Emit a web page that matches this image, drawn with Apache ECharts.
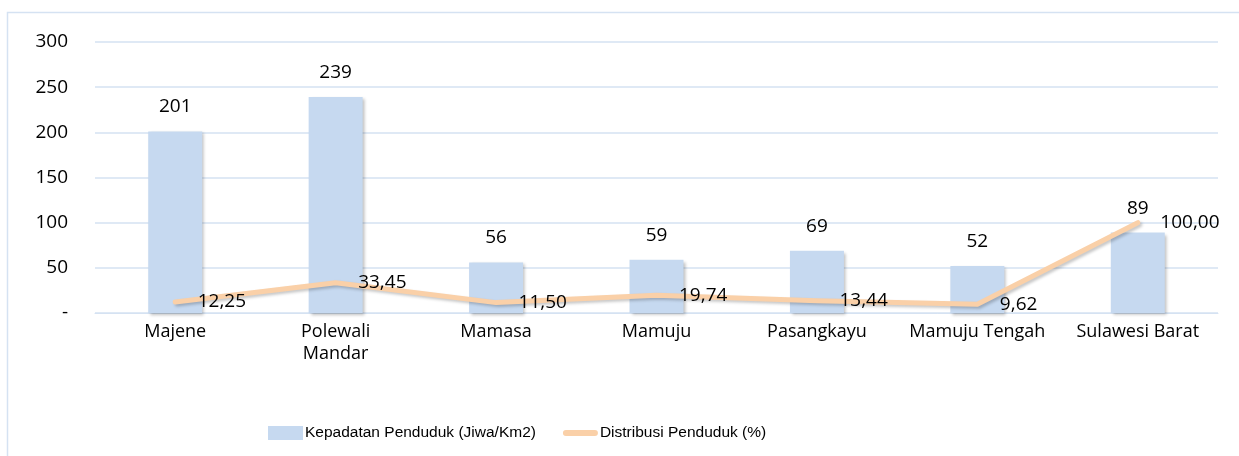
<!DOCTYPE html>
<html>
<head>
<meta charset="utf-8">
<script src="https://cdn.jsdelivr.net/npm/echarts@6/dist/echarts.min.js"></script>
<style>
  html, body { margin: 0; padding: 0; background: #fff; }
  #chart { width: 1239px; height: 456px; }
</style>
</head>
<body>
<div id="chart"></div>
<script>
"use strict";

// Data
const regions = ["Majene", "Polewali Mandar", "Mamasa", "Mamuju", "Pasangkayu", "Mamuju Tengah", "Sulawesi Barat"];
const density = [201, 239, 56, 59, 69, 52, 89];
const distribution = [12.25, 33.45, 11.50, 19.74, 13.44, 9.62, 100.00];
const yTicks = [0, 50, 100, 150, 200, 250, 300];

const FONT = "'Open Sans'";
const LEGEND_FONT = "'Liberation Sans'";
const barColor = "#C6D9F0";
const lineColor = "#FAD0A8";
const gridColor = "#D5E2F2";

function commaNum(v) {
  return v.toFixed(2).replace(".", ",");
}

// thick short bar for the line legend entry (tiny corner dots keep the box 35x14)
const lineIcon = "path://M0,0L0.01,0L0.01,0.01Z M35,14L34.99,14L34.99,13.99Z M3,4H32A3,3 0 0 1 32,10H3A3,3 0 0 1 3,4Z";

const chart = echarts.init(document.getElementById("chart"));

chart.setOption({
  animation: false,
  textStyle: { fontFamily: FONT },
  graphic: [
    {
      type: "rect",
      shape: { x: 7.5, y: 12.5, width: 1260, height: 460 },
      style: { fill: "none", stroke: gridColor, lineWidth: 1.5 },
      silent: true
    }
  ],
  grid: { left: 95, right: 21, top: 42, bottom: 143 },
  legend: {
    left: 263,
    top: 420,
    itemWidth: 35,
    itemHeight: 14,
    itemGap: 27,
    textStyle: { fontFamily: LEGEND_FONT, fontSize: 15.5, color: "#000", padding: [0, 0, 0, -3] },
    data: [
      { name: "Kepadatan Penduduk (Jiwa/Km2)", icon: "rect" },
      { name: "Distribusi Penduduk (%)", icon: lineIcon, itemStyle: { color: lineColor } }
    ]
  },
  xAxis: {
    type: "category",
    data: regions,
    axisLine: { lineStyle: { color: gridColor } },
    axisTick: { show: false },
    axisLabel: {
      fontFamily: FONT,
      fontSize: 18,
      color: "#000",
      margin: 8,
      lineHeight: 22,
      interval: 0,
      formatter: function (v) {
        return v === "Polewali Mandar" ? "Polewali\nMandar" : v;
      }
    }
  },
  yAxis: {
    type: "value",
    min: yTicks[0],
    max: yTicks[yTicks.length - 1],
    interval: 50,
    splitLine: { lineStyle: { color: gridColor, width: 1.5 } },
    axisLine: { show: false },
    axisTick: { show: false },
    axisLabel: {
      fontFamily: FONT,
      fontSize: 19,
      color: "#000",
      margin: 27,
      formatter: function (v) { return v === 0 ? "-" : String(v); }
    }
  },
  series: [
    {
      name: "Kepadatan Penduduk (Jiwa/Km2)",
      type: "bar",
      data: density,
      barWidth: 54,
      itemStyle: {
        color: barColor,
        shadowColor: "rgba(0,0,0,0.25)",
        shadowBlur: 3,
        shadowOffsetX: 2,
        shadowOffsetY: 2
      },
      label: {
        show: true,
        position: "top",
        distance: 15,
        fontFamily: FONT,
        fontSize: 19,
        color: "#000"
      }
    },
    {
      name: "Distribusi Penduduk (%)",
      type: "line",
      data: distribution,
      symbol: "circle",
      symbolSize: 1,
      showSymbol: true,
      lineStyle: {
        color: lineColor,
        width: 5,
        cap: "round",
        join: "round",
        shadowColor: "rgba(0,0,0,0.22)",
        shadowBlur: 3,
        shadowOffsetX: 2,
        shadowOffsetY: 2
      },
      itemStyle: { color: lineColor },
      label: {
        show: true,
        position: "right",
        distance: 22,
        offset: [0, 4],
        fontFamily: FONT,
        fontSize: 19,
        color: "#000",
        formatter: function (p) { return commaNum(p.value); }
      },
      labelLayout: { hideOverlap: false },
      z: 3
    }
  ]
});
</script>
</body>
</html>
